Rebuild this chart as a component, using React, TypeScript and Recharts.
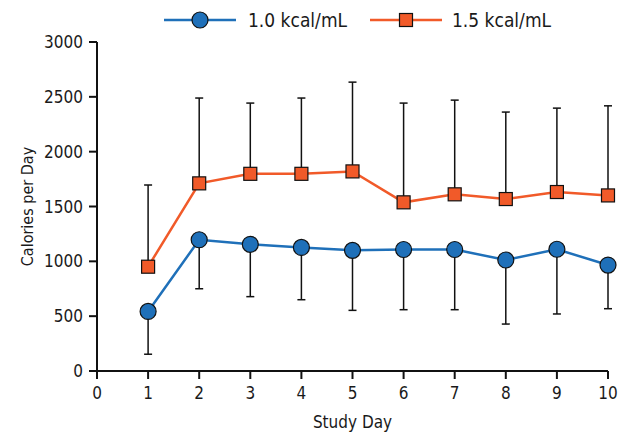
import { LineChart, Line, XAxis, YAxis, ErrorBar, Legend } from "recharts";

const days = [1, 2, 3, 4, 5, 6, 7, 8, 9, 10];
const kcal10 = [543, 1197, 1155, 1127, 1100, 1108, 1108, 1012, 1110, 966];
const kcal10Low = [153, 750, 678, 650, 553, 559, 559, 428, 520, 568];
const kcal15 = [951, 1711, 1798, 1798, 1820, 1538, 1611, 1568, 1632, 1601];
const kcal15High = [1696, 2489, 2443, 2489, 2634, 2443, 2470, 2361, 2397, 2418];
const xTicks = [0, 1, 2, 3, 4, 5, 6, 7, 8, 9, 10];
const yTicks = [0, 500, 1000, 1500, 2000, 2500, 3000];

const BLUE = "#1f70b9";
const ORANGE = "#f15a29";
const INK = "#111";
const FONT = "'Liberation Sans Narrow', 'DejaVu Sans Condensed', 'Roboto', sans-serif";

const data = days.map((day, i) => ({
  day,
  a: kcal10[i],
  aErr: [kcal10[i] - kcal10Low[i], 0],
  b: kcal15[i],
  bErr: [0, kcal15High[i] - kcal15[i]],
}));

const SquareDot = (props: any) => {
  const { cx, cy, index } = props;
  if (cx == null || cy == null) return null;
  return (
    <rect
      key={`sq-${index}`}
      x={cx - 6.5}
      y={cy - 6.5}
      width={13}
      height={13}
      fill={ORANGE}
      stroke={INK}
      strokeWidth={1.2}
    />
  );
};

const LegendContent = () => (
  <svg width={624} height={40} style={{ display: "block" }}>
    <line x1={164} x2={236} y1={20} y2={20} stroke={BLUE} strokeWidth={2.5} />
    <circle cx={200} cy={20} r={8} fill={BLUE} stroke={INK} strokeWidth={1.2} />
    <text x={248} y={26.5} fontSize={19} fontFamily={FONT} fill="#1a1a1a">
      1.0 kcal/mL
    </text>
    <line x1={370} x2={442} y1={20} y2={20} stroke={ORANGE} strokeWidth={2.5} />
    <rect x={399.5} y={13.5} width={13} height={13} fill={ORANGE} stroke={INK} strokeWidth={1.2} />
    <text x={452} y={26.5} fontSize={19} fontFamily={FONT} fill="#1a1a1a">
      1.5 kcal/mL
    </text>
  </svg>
);

export default function App() {
  const tick = { fill: "#1a1a1a", fontSize: 17, fontFamily: FONT };
  const axisLine = { stroke: INK, strokeWidth: 2 };
  return (
    <div style={{ position: "absolute", left: 0, top: 0, background: "#fff" }}>
      <LineChart
        width={624}
        height={434}
        data={data}
        margin={{ top: 42, right: 16, bottom: 6, left: 0 }}
      >
        <Legend
          verticalAlign="middle"
          layout="horizontal"
          content={<LegendContent />}
          wrapperStyle={{ top: 0, left: 0, width: 624, height: 40 }}
        />
        <XAxis
          dataKey="day"
          type="number"
          domain={[0, 10]}
          ticks={xTicks}
          interval={0}
          height={57}
          tick={tick}
          tickSize={8}
          tickMargin={8}
          axisLine={axisLine}
          tickLine={axisLine}
          label={{
            value: "Study Day",
            position: "insideBottom",
            offset: 0,
            style: { fill: "#1a1a1a", fontSize: 17, fontFamily: FONT },
          }}
        />
        <YAxis
          type="number"
          domain={[0, 3000]}
          ticks={yTicks}
          interval={0}
          width={97}
          tick={tick}
          tickSize={8}
          tickMargin={6}
          axisLine={axisLine}
          tickLine={axisLine}
          label={{
            value: "Calories per Day",
            angle: -90,
            position: "insideLeft",
            offset: 27,
            style: { fill: "#1a1a1a", fontSize: 16, fontFamily: FONT, textAnchor: "middle" },
          }}
        />
        <Line
          type="linear"
          dataKey="a"
          name="1.0 kcal/mL"
          stroke={BLUE}
          strokeWidth={2.5}
          dot={{ r: 8, fill: BLUE, stroke: INK, strokeWidth: 1.2 }}
          activeDot={false}
          isAnimationActive={false}
        >
          <ErrorBar dataKey="aErr" direction="y" width={4} stroke={INK} strokeWidth={1.5} />
        </Line>
        <Line
          type="linear"
          dataKey="b"
          name="1.5 kcal/mL"
          stroke={ORANGE}
          strokeWidth={2.5}
          dot={<SquareDot />}
          activeDot={false}
          isAnimationActive={false}
        >
          <ErrorBar dataKey="bErr" direction="y" width={4} stroke={INK} strokeWidth={1.5} />
        </Line>
      </LineChart>
    </div>
  );
}
